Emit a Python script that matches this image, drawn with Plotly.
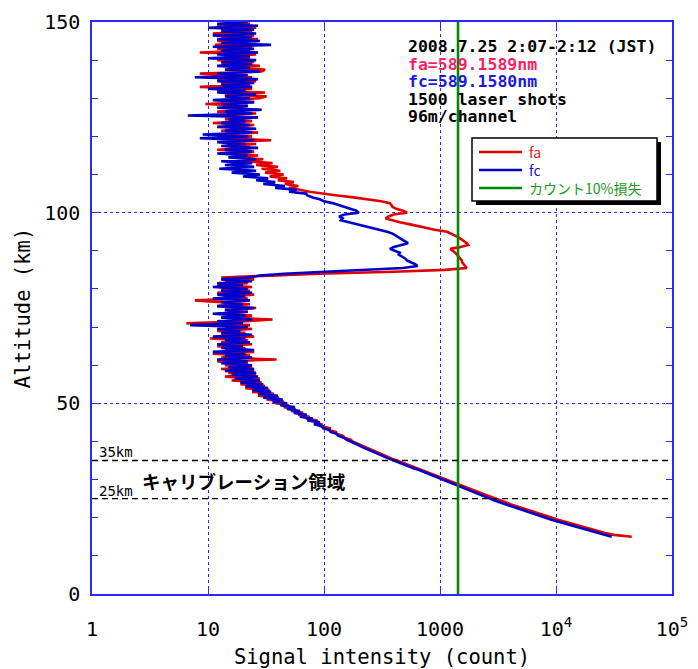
import plotly.graph_objects as go

# ---------------- data ----------------
ALT_START_KM = 15.0
ALT_STEP_KM = 0.5

# fc = 589.1580 nm (blue), counts per 0.5 km, rows of 5 km starting at 15 km
FC_COUNTS = [
    30200, 26300, 22900, 20000, 17400, 15100, 13200, 11700, 10200, 9120,   # 15
    8130, 7240, 6460, 5750, 5130, 4570, 4070, 3630, 3310, 2950,            # 20
    2690, 2450, 2240, 2040, 1860, 1700, 1550, 1410, 1290, 1170,            # 25
    1070, 980, 890, 790, 720, 660, 590, 540, 490, 440,                     # 30
    400, 363, 331, 302, 275, 257, 234, 214, 200, 182,                      # 35
    172, 156, 148, 132, 128, 114, 112, 98, 97, 82,                         # 40
    92, 72, 80, 62, 71, 55, 62, 48, 56, 42,                                # 45
    48, 36, 44, 30, 40, 27, 35, 24, 33, 21,                                # 50
    30, 19, 28, 17, 27, 16, 26, 14, 25, 15,                                # 55
    24, 13, 22, 12, 24, 14, 21, 11, 25, 13,                                # 60
    20, 12, 23, 14, 21, 11, 24, 13, 19, 12,                                # 65
    22, 7, 20, 12, 24, 13, 21, 11, 22, 14,                                 # 70
    25, 12, 20, 13, 23, 11, 21, 12, 24, 13,                                # 75
    22, 11, 20, 12, 24, 13, 22, 28, 45, 100,                               # 80
    230, 480, 640, 610, 560, 520, 500, 470, 440, 450,                      # 85
    410, 370, 400, 470, 530, 500, 470, 450, 420, 390,                      # 90
    350, 300, 250, 220, 190, 160, 140, 145, 135, 150,                      # 95
    200, 190, 170, 150, 130, 118, 100, 92, 80, 72,                         # 100
    70, 50, 58, 38, 46, 30, 38, 26, 33, 20,                                # 105
    28, 16, 26, 12.5, 25, 14, 24, 13, 26, 15,                              # 110
    22, 12, 24, 14, 27, 13, 21, 12, 25, 8.5,                               # 115
    22, 9, 24, 14, 26, 12, 23, 13, 21, 15,                                 # 120
    27, 6.7, 24, 14, 29, 12, 22, 13, 25, 11,                               # 125
    23, 14, 26, 12, 21, 10, 24, 13, 25, 12,                                # 130
    27, 7.7, 22, 12, 28, 14, 23, 12, 24, 13,                               # 135
    26, 10, 23, 12, 27, 13, 25, 11, 35, 13,                                # 140
    28, 12, 24, 11, 26, 13, 25, 10, 27, 12,                                # 145
    22,                                                                    # 150
]

# fa = 589.1589 nm (red)
FA_COUNTS = [
    45000, 31500, 26500, 23000, 20000, 17300, 15100, 13300, 11700, 10400,  # 15
    9250, 8200, 7300, 6500, 5800, 5150, 4600, 4100, 3720, 3320,            # 20
    3010, 2740, 2490, 2260, 2060, 1880, 1700, 1540, 1400, 1270,            # 25
    1160, 1060, 960, 860, 780, 710, 640, 580, 525, 470,                    # 30
    425, 385, 352, 320, 292, 272, 248, 226, 212, 192,                      # 35
    176, 170, 150, 146, 128, 127, 110, 112, 94, 95,                        # 40
    84, 88, 70, 75, 60, 66, 52, 57, 45, 50,                                # 45
    38, 45, 32, 41, 27, 37, 24, 34, 21, 31,                                # 50
    19, 29, 16, 28, 14, 26, 15, 25, 13, 24,                                # 55
    14, 22, 12, 39, 13, 23, 11, 25, 14, 21,                                # 60
    12, 24, 13, 22, 10.4, 25, 13, 21, 12, 24,                              # 65
    14, 23, 6.5, 20, 36, 13, 24, 12, 22, 14,                               # 70
    26, 12, 23, 13, 7.7, 22, 14, 25, 12, 23,                               # 75
    13, 24, 12, 22, 14, 25, 13, 35, 90, 400,                               # 80
    1100, 1700, 1650, 1600, 1550, 1540, 1500, 1450, 1400, 1350,            # 85
    1300, 1230, 1500, 1750, 1700, 1620, 1550, 1450, 1350, 1250,            # 90
    1150, 900, 740, 620, 540, 450, 380, 340, 360, 400,                     # 95
    520, 480, 420, 390, 380, 370, 310, 240, 180, 130,                      # 100
    95, 75, 62, 50, 60, 46, 55, 40, 48, 34,                                # 105
    45, 31, 42, 29, 40, 26, 36, 20, 30, 16,                                # 110
    27, 14, 25, 12, 23, 15, 26, 13, 35, 14,                                # 115
    24, 12, 27, 13, 22, 15, 25, 11, 24, 14,                                # 120
    22, 13, 26, 12, 24, 14, 22, 9.5, 25, 13,                               # 125
    28, 32, 14, 31, 12, 24, 8.5, 23, 13, 26,                               # 130
    12, 24, 14, 8.5, 29, 31, 15, 28, 13, 25,                               # 135
    12, 23, 14, 26, 8.5, 23, 12, 24, 11.5, 22,                             # 140
    12, 27, 13, 25, 11, 24, 13, 26, 12, 23,                                # 145
    14,                                                                    # 150
]

LOSS10_COUNT = 1430          # 10 % count-loss level
CAL_TOP_KM = 35
CAL_BOTTOM_KM = 25
ALT_RANGE = [0, 150]
X_TICK_VALS = [1, 10, 100, 1000, 1e4, 1e5]
X_TICK_TEXT = ["1", "10", "100", "1000", "10<sup>4</sup>", "10<sup>5</sup>"]
Y_TICK_VALS = [0, 50, 100, 150]
SERIES_NAMES = ["fa", "fc", "カウント10%損失"]

alt_fa = [ALT_START_KM + i * ALT_STEP_KM for i in range(len(FA_COUNTS))]
alt_fc = [ALT_START_KM + i * ALT_STEP_KM for i in range(len(FC_COUNTS))]

# ---------------- styles ----------------
RED = "#e00000"
BLUE = "#0000cc"
GREEN = "#008a00"
FRAME = "#2a2aff"
MONO = "DejaVu Sans Mono"
JP = "Noto Sans CJK JP"
LEGEND_TEXT_COLORS = ["#e02020", "#1414d8", "#1a9a1a"]
LINE_COLORS = [RED, BLUE, GREEN]

# plot area in pixels (for paper-coordinate helpers)
PL, PR, PT, PB = 92, 672, 22, 594


def px(xp):
    return (xp - PL) / (PR - PL)


def py(yp):
    return (PB - yp) / (PB - PT)


fig = go.Figure()
fig.add_trace(go.Scatter(x=FA_COUNTS, y=alt_fa, mode="lines", name=SERIES_NAMES[0],
                         line=dict(color=RED, width=2.6)))
fig.add_trace(go.Scatter(x=FC_COUNTS, y=alt_fc, mode="lines", name=SERIES_NAMES[1],
                         line=dict(color=BLUE, width=2.6)))
fig.add_trace(go.Scatter(x=[LOSS10_COUNT, LOSS10_COUNT], y=ALT_RANGE, mode="lines",
                         name=SERIES_NAMES[2], line=dict(color=GREEN, width=2.6)))

# calibration region lines
for yv in (CAL_TOP_KM, CAL_BOTTOM_KM):
    fig.add_shape(type="line", xref="paper", x0=0, x1=1, yref="y", y0=yv, y1=yv,
                  line=dict(color="black", width=1.4, dash="6px,4px"))

# legend box (drawn by hand to match the compact original)
fig.add_shape(type="rect", xref="paper", yref="paper",
              x0=px(476), x1=px(661), y0=py(205), y1=py(142),
              fillcolor="black", line=dict(width=0), layer="above")
fig.add_shape(type="rect", xref="paper", yref="paper",
              x0=px(472), x1=px(657), y0=py(201), y1=py(138),
              fillcolor="white", line=dict(color="black", width=1.5), layer="above")

ann = []
legend_lines = []
for i, (name, lc, tc) in enumerate(zip(SERIES_NAMES, LINE_COLORS, LEGEND_TEXT_COLORS)):
    ypix = 152 + i * 18
    fig.add_shape(type="line", xref="paper", yref="paper",
                  x0=px(479), x1=px(522), y0=py(ypix), y1=py(ypix),
                  line=dict(color=lc, width=2.6), layer="above")
    legend_lines.append(f"<span style='color:{tc}'>{name}</span>")
ann.append(dict(text="<br>".join(legend_lines), xref="paper", yref="paper",
                x=px(527), y=py(152 + 18), xanchor="left", yanchor="middle",
                align="left", showarrow=False,
                font=dict(family=JP, size=14, color="black")))

info_lines = [
    ("2008.7.25 2:07-2:12 (JST)", "black"),
    ("fa=589.1589nm", "#ff1f62"),
    ("fc=589.1580nm", "#1a1ae6"),
    ("1500 laser shots", "black"),
    ("96m/channel", "black"),
]
for i, (t, c) in enumerate(info_lines):
    ypix = 46 + i * 17.6
    ann.append(dict(text=f"<b>{t}</b>", xref="paper", yref="paper",
                    x=px(406), y=py(ypix), height=16,
                    xanchor="left", yanchor="middle", showarrow=False,
                    font=dict(family=MONO, size=16.5, color=c)))

ann.append(dict(text="35km", xref="paper", yref="paper", x=px(97), y=py(452),
                xanchor="left", yanchor="middle", showarrow=False,
                font=dict(family=MONO, size=14, color="black")))
ann.append(dict(text="25km", xref="paper", yref="paper", x=px(97), y=py(491),
                xanchor="left", yanchor="middle", showarrow=False,
                font=dict(family=MONO, size=14, color="black")))
ann.append(dict(text="<b>キャリブレーション領域</b>", xref="paper", yref="paper",
                x=px(140), y=py(481), xanchor="left", yanchor="middle",
                showarrow=False, font=dict(family=JP, size=18.5, color="black")))

axis_common = dict(
    showline=True, linecolor=FRAME, linewidth=1.5, mirror="ticks",
    ticks="inside", ticklen=6, tickcolor=FRAME, tickwidth=1.2,
    showgrid=True, gridcolor=FRAME, griddash="dot", gridwidth=1,
    zeroline=False, automargin=False,
    tickfont=dict(family=MONO, size=20, color="black"),
)

fig.update_layout(
    width=698, height=669, autosize=False,
    margin=dict(l=PL, r=698 - PR, t=PT, b=669 - PB),
    paper_bgcolor="white", plot_bgcolor="white",
    annotations=ann,
    showlegend=False,
    xaxis=dict(type="log", range=[0, 5], tickvals=X_TICK_VALS, ticktext=X_TICK_TEXT,
               ticklabelstandoff=16,
               title=dict(text="Signal intensity (count)",
                          font=dict(family=MONO, size=20.5, color="black"), standoff=14),
               **axis_common),
    yaxis=dict(range=ALT_RANGE, tickvals=Y_TICK_VALS, ticklabelstandoff=6,
               minor=dict(dtick=10, ticks="inside", ticklen=6, tickcolor=FRAME, showgrid=False),
               title=dict(text="Altitude (km)",
                          font=dict(family=MONO, size=20.5, color="black"), standoff=8),
               **axis_common),
)

fig.write_html(
    "out.html",
    config={"displayModeBar": False},
    post_script="document.body.style.margin='0';document.body.style.overflow='hidden';",
)
